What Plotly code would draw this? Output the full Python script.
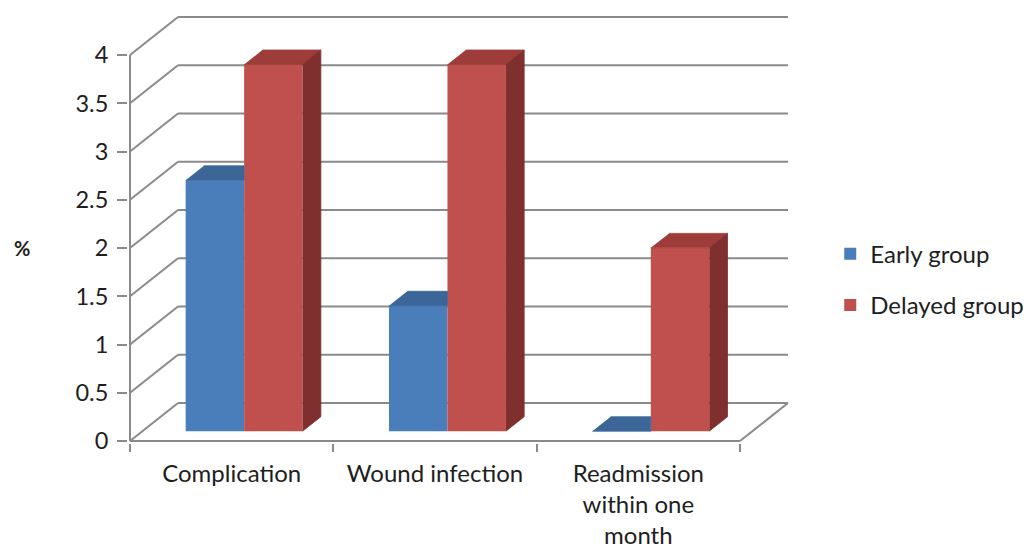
import plotly.graph_objects as go

# ---- data ----
categories = ["Complication", "Wound infection", "Readmission<br>within one<br>month"]
series_names = ["Early group", "Delayed group"]
early_group = [2.6, 1.3, 0.0]
delayed_group = [3.8, 3.8, 1.9]
y_ticks = [0, 0.5, 1, 1.5, 2, 2.5, 3, 3.5, 4]
y_tick_text = ["0", "0.5", "1", "1.5", "2", "2.5", "3", "3.5", "4"]

# ---- styling / pseudo-3D geometry ----
FRONT_COLORS = ["#4A7EBB", "#C0504D"]
TOP_COLORS = ["#3B6697", "#9E3C3A"]
SIDE_COLORS = ["#2F5279", "#7F2F2D"]
GRID = "#8A8A8A"
TEXT = "#1E1E1E"
FONT = "Lato"

DEPTH_X = 0.236   # full depth of the box projected on the x axis (category units)
DEPTH_Y = 0.394   # full depth of the box projected on the y axis (value units)
BAR_D0 = 0.26     # front of the columns, as a fraction of the box depth
BAR_D1 = 0.64     # back of the columns
BAR_W = 0.2875    # column width in category units

n_cat = len(categories)
series_values = [early_group, delayed_group]

fig = go.Figure()

# front faces of the columns
for s, (name, vals) in enumerate(zip(series_names, series_values)):
    centers = [i + 0.5 + (s - 0.5) * BAR_W for i in range(n_cat)]
    fig.add_trace(go.Bar(
        x=[c + BAR_D0 * DEPTH_X for c in centers],
        y=vals,
        base=[BAR_D0 * DEPTH_Y] * n_cat,
        width=BAR_W,
        name=name,
        legendgroup=name,
        marker=dict(color=FRONT_COLORS[s], line=dict(width=0)),
        hoverinfo="skip",
    ))

# top and side faces of the columns
for s, vals in enumerate(series_values):
    last = s == len(series_values) - 1
    centers = [i + 0.5 + (s - 0.5) * BAR_W for i in range(n_cat)]
    tx, ty, sx, sy = [], [], [], []
    for c, v in zip(centers, vals):
        xl, xr = c - BAR_W / 2, c + BAR_W / 2
        # the back-right corner of a non-last column is hidden by its neighbour
        back_r = xr + (BAR_D1 if last else BAR_D0) * DEPTH_X
        tx += [xl + BAR_D0 * DEPTH_X, xr + BAR_D0 * DEPTH_X, back_r, xl + BAR_D1 * DEPTH_X, None]
        ty += [v + BAR_D0 * DEPTH_Y, v + BAR_D0 * DEPTH_Y, v + BAR_D1 * DEPTH_Y, v + BAR_D1 * DEPTH_Y, None]
        if last:
            sx += [xr + BAR_D0 * DEPTH_X, xr + BAR_D1 * DEPTH_X, xr + BAR_D1 * DEPTH_X, xr + BAR_D0 * DEPTH_X, None]
            sy += [BAR_D0 * DEPTH_Y, BAR_D1 * DEPTH_Y, v + BAR_D1 * DEPTH_Y, v + BAR_D0 * DEPTH_Y, None]
    fig.add_trace(go.Scatter(
        x=tx, y=ty, mode="lines", fill="toself", fillcolor=TOP_COLORS[s],
        line=dict(color=TOP_COLORS[s], width=0.8), showlegend=False, hoverinfo="skip",
    ))
    if last:
        fig.add_trace(go.Scatter(
            x=sx, y=sy, mode="lines", fill="toself", fillcolor=SIDE_COLORS[s],
            line=dict(color=SIDE_COLORS[s], width=0.8), showlegend=False, hoverinfo="skip",
        ))

# walls: back gridlines, side-wall diagonals, floor and front axis
line_style = dict(color=GRID, width=2)
for v in y_ticks:
    fig.add_shape(type="line", xref="x", yref="y", layer="below",
                  x0=DEPTH_X, y0=v + DEPTH_Y, x1=n_cat + DEPTH_X, y1=v + DEPTH_Y, line=line_style)
    fig.add_shape(type="line", xref="x", yref="y", layer="below",
                  x0=0, y0=v, x1=DEPTH_X, y1=v + DEPTH_Y, line=line_style)
fig.add_shape(type="line", xref="x", yref="y", layer="below",
              x0=0, y0=0, x1=n_cat, y1=0, line=line_style)
fig.add_shape(type="line", xref="x", yref="y", layer="below",
              x0=n_cat, y0=0, x1=n_cat + DEPTH_X, y1=DEPTH_Y, line=line_style)
fig.add_shape(type="line", xref="x", yref="y", layer="below",
              x0=0, y0=0, x1=0, y1=y_ticks[-1], line=line_style)

fig.add_annotation(text="<b>%</b>", xref="paper", yref="paper", x=-0.158, y=0.45,
                   xanchor="center", yanchor="middle", showarrow=False,
                   font=dict(family=FONT, size=20, color=TEXT))

fig.update_layout(
    width=1029, height=551,
    margin=dict(l=128, r=229, t=10, b=108, autoexpand=False),
    paper_bgcolor="white", plot_bgcolor="white",
    barmode="overlay",
    font=dict(family=FONT, size=24, color=TEXT),
    legend=dict(x=1.045, y=0.377, xanchor="left", yanchor="middle",
                font=dict(family=FONT, size=24, color=TEXT),
                tracegroupgap=17, bgcolor="rgba(0,0,0,0)"),
    xaxis=dict(
        range=[-2 / 203.33, 670 / 203.33],
        tickvals=[i + 0.5 for i in range(n_cat)], ticktext=categories,
        ticks="", showgrid=False, zeroline=False, showline=False,
        ticklabelstandoff=14, automargin=False,
        tickfont=dict(family=FONT, size=24, color=TEXT),
        minor=dict(tickvals=list(range(n_cat + 1)), ticks="outside", ticklen=8,
                   tickwidth=2, tickcolor=GRID, showgrid=False),
        fixedrange=True,
    ),
    yaxis=dict(
        range=[-0.02, 4.467],
        tickvals=y_ticks, ticktext=y_tick_text,
        ticks="outside", ticklen=10, tickwidth=2, tickcolor=GRID,
        showgrid=False, zeroline=False, showline=False,
        ticklabelstandoff=4, automargin=False,
        tickfont=dict(family=FONT, size=23.5, color=TEXT),
        fixedrange=True,
    ),
)

fig.write_html("out.html")
